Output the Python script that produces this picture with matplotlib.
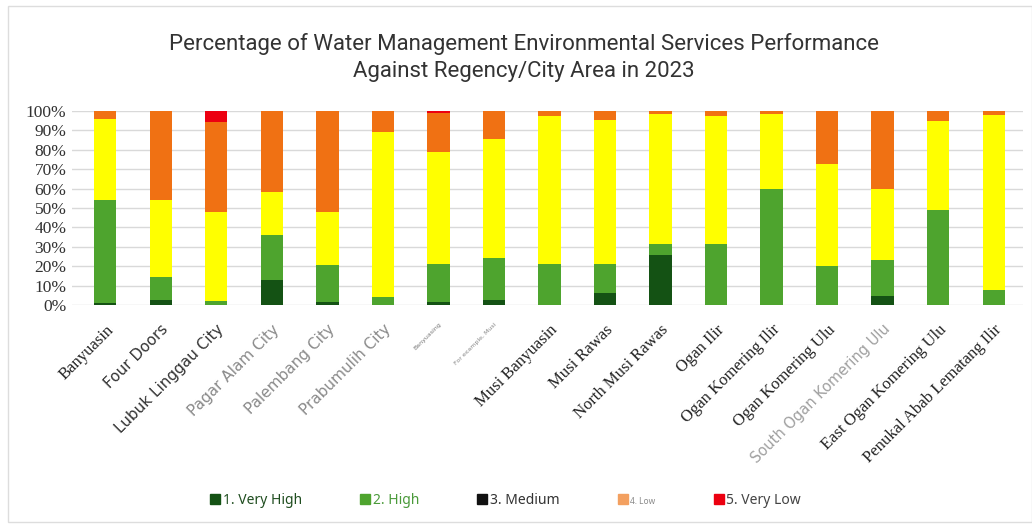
import numpy as np
import matplotlib
matplotlib.use('Agg')
import matplotlib.pyplot as plt
import matplotlib.patches as mpatches

# regency / city names as printed on the x axis
regions = ['Banyuasin', 'Four Doors', 'Lubuk Linggau City', 'Pagar Alam City',
           'Palembang City', 'Prabumulih City', 'Banyuasing', 'For example, Musi',
           'Musi Banyuasin', 'Musi Rawas', 'North Musi Rawas', 'Ogan Ilir',
           'Ogan Komering Ilir', 'Ogan Komering Ulu', 'South Ogan Komering Ulu',
           'East Ogan Komering Ulu', 'Penukal Abab Lematang Ilir']

# percentage per performance class
very_high = [1, 2.5, 0, 13, 1.5, 0, 1.5, 2.5, 0, 6, 26, 0, 0, 0, 4.5, 0, 0]
high = [53, 12, 2, 23, 19, 4, 19.5, 21.5, 21, 15, 5.5, 31.5, 60, 20, 18.5, 49, 7.5]
medium = [42, 39.5, 46, 22.5, 27.5, 85, 58, 61.5, 76.5, 74.5, 67, 66, 38.5, 52.5, 37, 46, 90.5]
low = [4, 46, 46.5, 41.5, 52, 11, 20, 14.5, 2.5, 4.5, 1.5, 2.5, 1.5, 27.5, 40, 5, 2]
very_low = [0, 0, 5.5, 0, 0, 0, 1, 0, 0, 0, 0, 0, 0, 0, 0, 0, 0]

class_names = ['1. Very High', '2. High', '3. Medium', '4. Low', '5. Very Low']
class_colors = ['#145214', '#4ea42e', '#ffff00', '#f07113', '#ec0010']

series = [very_high, high, medium, low, very_low]

fig = plt.figure(figsize=(10.32, 5.24), dpi=100)
ax = fig.add_axes([0.0698, 0.418, 0.921, 0.37])

x = np.arange(len(regions))
bottom = np.zeros(len(regions))
bars = []
for vals, name, col in zip(series, class_names, class_colors):
    b = ax.bar(x, vals, 0.4, bottom=bottom, color=col, label=name, zorder=3)
    bars.append(b)
    bottom += np.array(vals)

ax.set_ylim(0, 100)
ax.set_xlim(-0.6, len(regions) - 0.48)
ax.set_yticks(np.arange(0, 101, 10))
ax.set_yticklabels(['%d%%' % v for v in range(0, 101, 10)],
                   family='Liberation Serif', fontsize=12.5, color='#333333')
ax.yaxis.grid(True, color='#d9d9d9', lw=1, zorder=0)
ax.tick_params(axis='y', length=0, pad=4)
ax.tick_params(axis='x', length=0, pad=12)
for s in ax.spines.values():
    s.set_visible(False)

# x labels come in a mix of fonts and greys in the original
label_style = {
    0: ('Liberation Serif', 12, '#222222'),
    1: ('DejaVu Sans', 11, '#333333'),
    2: ('DejaVu Sans', 11, '#333333'),
    3: ('DejaVu Sans', 11, '#8a8a8a'),
    4: ('DejaVu Sans', 11, '#8a8a8a'),
    5: ('DejaVu Sans', 11, '#8a8a8a'),
    6: ('DejaVu Sans', 4.5, '#777777'),
    7: ('DejaVu Sans', 4.5, '#888888'),
    14: ('DejaVu Sans', 10.5, '#a0a0a0'),
}
ax.set_xticks(x)
ax.set_xticklabels(regions, rotation=45, ha='right', rotation_mode='anchor')
for i, t in enumerate(ax.get_xticklabels()):
    fam, size, col = label_style.get(i, ('Liberation Serif', 12, '#222222'))
    t.set_family(fam)
    t.set_fontsize(size)
    t.set_color(col)

fig.suptitle('Percentage of Water Management Environmental Services Performance\n'
             'Against Regency/City Area in 2023',
             x=0.508, y=0.937, family='Roboto', fontsize=16, color='#333333',
             linespacing=1.4)

leg = fig.legend(handles=bars, loc='center', bbox_to_anchor=(0.49, 0.045),
                 ncol=5, frameon=False, handlelength=0.7, handleheight=0.7,
                 handletextpad=0.2, columnspacing=4.2,
                 prop={'family': 'Noto Sans', 'size': 10})
# the legend in the original shows odd swatches and text shades
handle_colors = ['#145214', '#4ea42e', '#111111', '#f3a060', '#ec0010']
text_colors = ['#1f4d1f', '#4a9a3a', '#333333', '#8a8a8a', '#444444']
for h, t, hc, tc in zip(leg.legend_handles, leg.get_texts(), handle_colors, text_colors):
    h.set_color(hc)
    t.set_color(tc)
leg.get_texts()[3].set_fontsize(6)

fig.patches.append(mpatches.Rectangle((0.008, 0.004), 0.992, 0.985,
                                      transform=fig.transFigure, fill=False,
                                      edgecolor='#dddddd', lw=1))

fig.savefig('out.png', dpi=100)
